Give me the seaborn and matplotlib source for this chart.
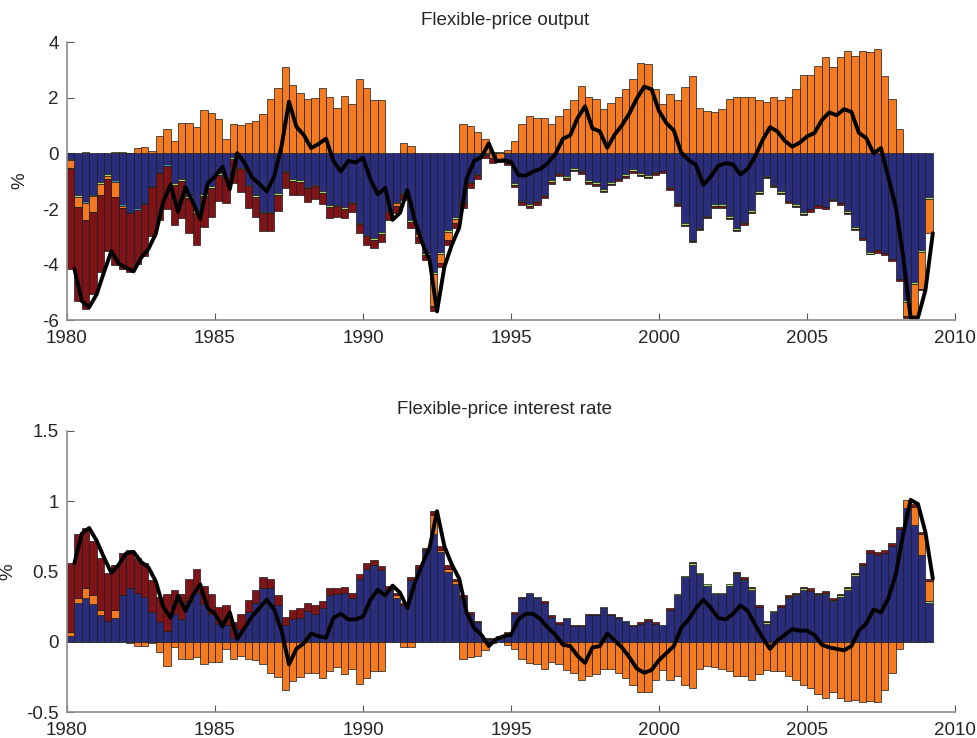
import numpy as np
import matplotlib
matplotlib.use('Agg')
import matplotlib.pyplot as plt
import seaborn as sns
from matplotlib.ticker import FormatStrFormatter

sns.set_style('white')
plt.rcParams['font.family'] = ['Liberation Sans', 'DejaVu Sans']

# quarterly decomposition, 1980Q1 .. 2009Q1 (117 quarters)
n_q = 117
quarters = 1980 + 0.25 * np.arange(n_q)

# ---------------- Flexible-price output ----------------
out_blue = [
    -0.21, -1.50, -1.70, -1.49, -1.03, -0.75, -0.97, -1.82, -2.09, -1.96,
    -1.77, -1.17, -0.66, -0.39, -1.07, -0.93, -1.54, -2.08, -1.46, -1.17,
    -0.71, -0.84, -0.14, -0.52, -1.14, -1.51, -2.09, -2.10, -1.42, -0.64,
    -0.92, -0.97, -1.21, -1.14, -1.36, -1.87, -1.86, -1.93, -1.74, -2.49,
    -2.93, -3.05, -2.84, -2.06, -1.75, -1.42, -2.41, -2.86, -3.59, -4.28,
    -3.55, -2.76, -2.30, -1.74, -1.02, -0.73, -0.05, 0.00, 0.00, -0.33,
    -1.07, -1.70, -1.83, -1.70, -1.49, -0.96, -0.69, -0.83, -0.53, -0.62,
    -0.97, -1.04, -1.28, -1.04, -0.92, -0.75, -0.57, -0.71, -0.79, -0.67,
    -0.63, -1.20, -1.79, -2.50, -3.11, -2.67, -2.24, -1.83, -1.83, -2.26,
    -2.70, -2.47, -2.05, -1.35, -0.80, -1.12, -1.36, -1.72, -1.83, -2.11,
    -2.01, -1.87, -1.93, -1.63, -1.79, -2.08, -2.65, -3.04, -3.55, -3.49,
    -3.57, -3.79, -4.50, -5.27, -4.62, -3.47, -1.56]
out_lightblue = [
    0, 0, -0.07, 0, 0, 0, -0.07, -0.06, -0.06, -0.07,
    -0.04, -0.05, -0.06, -0.07, 0, 0, 0, 0, 0, 0] + [0] * 97
out_green = [
    -0.03, -0.07, 0.06, -0.06, -0.08, -0.07, 0.06, 0.06, 0, 0,
    0, 0, 0, 0, -0.07, -0.07, -0.07, -0.05, -0.06, -0.06,
    -0.06, -0.05, -0.06, -0.06, -0.05, -0.06, -0.06, -0.06, -0.06, -0.04,
    -0.06, -0.05, -0.05, -0.05, -0.05, -0.06, -0.05, -0.06, -0.06, -0.06,
    -0.05, -0.06, -0.05, -0.06, -0.05, -0.05, -0.06, -0.05, -0.06, -0.05,
    -0.05, -0.06, -0.05, -0.05, -0.06, -0.06, 0, 0.06, 0.05, 0,
    -0.06, -0.06, -0.06, -0.05, -0.05, -0.06, -0.05, -0.05, -0.06, -0.04,
    -0.06, -0.05, -0.06, -0.05, 0, -0.05, -0.06, -0.06, -0.05, -0.05,
    0, -0.06, -0.04, -0.06, -0.05, -0.05, -0.06, -0.07, -0.07, -0.05,
    -0.06, -0.05, -0.06, -0.06, -0.05, -0.06, -0.06, 0, -0.06, -0.06,
    0, 0, 0, -0.06, 0, -0.06, -0.06, 0, -0.06, 0,
    0, 0, 0, -0.06, -0.06, -0.06, -0.07]
out_orange = [
    -0.30, -0.37, -0.64, -0.54, -0.38, -0.10, -0.54, -0.07, 0.03, 0.21,
    0.24, 0.08, 0.63, 0.88, 0.46, 1.10, 1.10, 0.95, 1.56, 1.45,
    1.24, 0.51, 1.07, 1.03, 1.10, 1.17, 1.42, 1.95, 2.34, 3.12,
    2.46, 2.17, 1.95, 1.98, 2.34, 2.04, 1.63, 2.06, 1.78, 2.69,
    2.35, 1.93, 1.93, 0.00, -0.10, 0.36, 0.26, -0.10, 0.00, -1.16,
    -0.33, -0.28, -0.17, 1.04, 0.98, 0.78, 0.53, -0.18, -0.20, 0.12,
    0.44, 1.07, 1.33, 1.28, 1.28, 1.07, 1.33, 1.60, 1.92, 2.43,
    2.01, 1.95, 1.60, 1.81, 2.01, 2.31, 2.66, 3.23, 3.20, 2.31,
    1.78, 2.13, 1.92, 2.37, 2.78, 1.63, 1.51, 1.50, 1.60, 1.95,
    2.04, 2.01, 2.04, 1.93, 1.83, 2.01, 1.92, 2.04, 2.31, 2.82,
    2.82, 3.14, 3.46, 3.10, 3.46, 3.67, 3.49, 3.67, 3.63, 3.76,
    2.78, 1.95, 0.86, -0.50, -1.15, -1.33, -1.24]
out_red = [
    -3.61, -3.37, -3.18, -2.98, -2.78, -2.59, -2.45, -2.22, -2.12, -1.94,
    -1.87, -1.75, -1.66, -1.54, -1.42, -1.31, -1.25, -1.17, -1.12, -1.05,
    -0.95, -0.91, -0.86, -0.80, -0.77, -0.70, -0.64, -0.62, -0.59, -0.58,
    -0.52, -0.49, -0.50, -0.45, -0.40, -0.38, -0.37, -0.34, -0.31, -0.30,
    -0.30, -0.30, -0.28, -0.27, -0.24, -0.21, -0.20, -0.21, -0.19, -0.19,
    -0.15, -0.19, -0.15, -0.17, -0.17, -0.13, -0.12, -0.15, -0.10, -0.10,
    -0.09, -0.11, -0.09, -0.09, -0.08, -0.08, -0.07, -0.07, -0.06, -0.08,
    -0.08, -0.07, -0.06, -0.05, -0.08, -0.07, -0.06, -0.06, -0.06, -0.07,
    -0.06, -0.05, -0.06, -0.05, -0.04, -0.05, -0.04, -0.05, -0.05, -0.04,
    -0.04, -0.04, -0.04, -0.04, -0.04, -0.04, -0.05, -0.08, -0.04, -0.04,
    -0.08, -0.08, -0.06, -0.04, -0.08, -0.04, -0.04, -0.08, -0.02, -0.08,
    -0.08, -0.08, -0.08, -0.07, -0.07, -0.06, 0.00]
out_total = [
    -4.15, -5.31, -5.53, -5.07, -4.27, -3.51, -3.97, -4.11, -4.24, -3.76,
    -3.44, -2.89, -1.75, -1.12, -2.10, -1.21, -1.76, -2.35, -1.08, -0.83,
    -0.48, -1.29, 0.01, -0.35, -0.86, -1.10, -1.37, -0.83, 0.27, 1.86,
    0.96, 0.66, 0.19, 0.34, 0.53, -0.27, -0.65, -0.27, -0.33, -0.16,
    -0.93, -1.48, -1.24, -2.39, -2.14, -1.32, -2.41, -3.22, -3.84, -5.68,
    -4.08, -3.29, -2.67, -0.92, -0.27, -0.14, 0.36, -0.27, -0.25, -0.31,
    -0.78, -0.80, -0.65, -0.56, -0.34, -0.03, 0.52, 0.65, 1.27, 1.69,
    0.90, 0.79, 0.20, 0.67, 1.01, 1.44, 1.97, 2.40, 2.30, 1.52,
    1.09, 0.82, 0.03, -0.24, -0.42, -1.14, -0.83, -0.45, -0.35, -0.40,
    -0.76, -0.55, -0.11, 0.48, 0.94, 0.79, 0.45, 0.24, 0.38, 0.61,
    0.73, 1.19, 1.47, 1.37, 1.59, 1.49, 0.74, 0.55, 0.00, 0.19,
    -0.87, -1.92, -3.72, -5.90, -5.90, -4.92, -2.87]

# ---------------- Flexible-price interest rate ----------------
rate_blue = [
    0.04, 0.28, 0.31, 0.27, 0.19, 0.15, 0.17, 0.33, 0.38, 0.35,
    0.32, 0.21, 0.14, 0.08, 0.20, 0.16, 0.29, 0.35, 0.27, 0.20,
    0.13, 0.12, 0.03, 0.09, 0.21, 0.28, 0.38, 0.38, 0.26, 0.12,
    0.16, 0.17, 0.22, 0.20, 0.24, 0.33, 0.34, 0.35, 0.31, 0.45,
    0.52, 0.55, 0.51, 0.37, 0.31, 0.26, 0.44, 0.52, 0.65, 0.77,
    0.64, 0.50, 0.41, 0.31, 0.20, 0.14, 0.02, 0.02, 0.02, 0.05,
    0.20, 0.31, 0.34, 0.31, 0.28, 0.18, 0.13, 0.16, 0.11, 0.11,
    0.19, 0.19, 0.24, 0.19, 0.17, 0.14, 0.11, 0.13, 0.15, 0.13,
    0.12, 0.23, 0.33, 0.46, 0.55, 0.48, 0.40, 0.34, 0.34, 0.40,
    0.48, 0.44, 0.37, 0.25, 0.13, 0.21, 0.25, 0.31, 0.33, 0.37,
    0.36, 0.33, 0.34, 0.29, 0.32, 0.37, 0.47, 0.54, 0.63, 0.62,
    0.63, 0.68, 0.80, 0.95, 0.83, 0.62, 0.28]
rate_lightblue = [0] * 62 + [0.01, 0.01, 0, 0, 0, 0.01, 0, 0, 0, 0,
                             0.01, 0, 0, 0.01] + [0] * 41
rate_green = [0] * 80 + [
    0, 0, 0.01, 0.01, 0.01, 0.01, 0.01, 0.01, 0.01, 0.01,
    0.01, 0.01, 0.01, 0, 0.01, 0.01, 0, 0.01, 0.01, 0.01,
    0, 0.01, 0.01, 0.01, 0.01, 0.01, 0.01, 0.01, 0, 0,
    0, 0, 0, 0, 0, 0, 0.01]
rate_orange = [
    0.03, 0.03, 0.07, 0.06, 0.04, 0, 0.06, 0, -0.01, -0.03,
    -0.03, -0.01, -0.07, -0.17, -0.04, -0.12, -0.12, -0.11, -0.16, -0.14,
    -0.14, -0.05, -0.12, -0.10, -0.12, -0.13, -0.16, -0.22, -0.25, -0.34,
    -0.28, -0.25, -0.22, -0.22, -0.26, -0.21, -0.18, -0.23, -0.19, -0.30,
    -0.26, -0.21, -0.21, 0, 0.02, -0.04, -0.04, 0, 0, 0.13,
    0.01, 0.02, 0.02, -0.12, -0.11, -0.10, -0.06, -0.01, 0.01, -0.02,
    -0.05, -0.12, -0.15, -0.16, -0.19, -0.14, -0.16, -0.20, -0.22, -0.27,
    -0.24, -0.23, -0.19, -0.19, -0.22, -0.26, -0.31, -0.36, -0.36, -0.27,
    -0.20, -0.27, -0.24, -0.31, -0.33, -0.19, -0.17, -0.18, -0.19, -0.21,
    -0.24, -0.24, -0.27, -0.23, -0.20, -0.21, -0.21, -0.24, -0.27, -0.31,
    -0.33, -0.37, -0.40, -0.36, -0.40, -0.42, -0.41, -0.43, -0.42, -0.43,
    -0.34, -0.22, -0.05, 0.06, 0.13, 0.15, 0.14]
rate_red = [
    0.49, 0.46, 0.43, 0.39, 0.37, 0.34, 0.32, 0.30, 0.27, 0.25,
    0.24, 0.23, 0.18, 0.26, 0.17, 0.18, 0.16, 0.17, 0.13, 0.14,
    0.12, 0.14, 0.11, 0.11, 0.09, 0.09, 0.08, 0.07, 0.07, 0.06,
    0.07, 0.07, 0.06, 0.06, 0.05, 0.05, 0.04, 0.04, 0.04, 0.03,
    0.04, 0.03, 0.03, 0.03, 0.02, 0.02, 0.02, 0.03, 0.02, 0.03,
    0.03, 0.03, 0.02, 0.02, 0.01, 0.01, 0.01, 0.01, 0.01, 0.02,
    0.01, 0.01, 0, 0, 0.01, 0.01, 0.01, 0, 0.01, 0.01,
    0.01, 0.01, 0, 0.01, 0.01, 0, 0.01, 0.01, 0.01, 0.01,
    0, 0.01, 0, 0, 0.01, 0, 0, 0, 0, 0,
    0.01, 0.01, 0.01, 0.01, 0.01, 0, 0.01, 0.01, 0.01, 0.01,
    0.02, 0.01, 0.01, 0.01, 0.01, 0.01, 0.01, 0.01, 0.02, 0.02,
    0.02, 0.02, 0.02, 0, 0.02, 0.01, 0.02]
rate_total = [
    0.56, 0.77, 0.81, 0.72, 0.60, 0.49, 0.55, 0.63, 0.64, 0.57,
    0.53, 0.43, 0.25, 0.17, 0.33, 0.22, 0.33, 0.41, 0.24, 0.20,
    0.11, 0.21, 0.02, 0.10, 0.18, 0.24, 0.30, 0.23, 0.08, -0.16,
    -0.05, -0.01, 0.06, 0.04, 0.03, 0.17, 0.20, 0.16, 0.16, 0.18,
    0.30, 0.37, 0.33, 0.40, 0.35, 0.24, 0.42, 0.55, 0.67, 0.93,
    0.68, 0.55, 0.45, 0.21, 0.10, 0.05, -0.03, 0.02, 0.04, 0.05,
    0.16, 0.20, 0.20, 0.16, 0.10, 0.05, -0.02, -0.03, -0.10, -0.15,
    -0.04, -0.03, 0.06, 0.01, -0.04, -0.11, -0.19, -0.22, -0.20, -0.13,
    -0.08, -0.03, 0.10, 0.16, 0.24, 0.30, 0.24, 0.17, 0.16, 0.20,
    0.26, 0.22, 0.12, 0.03, -0.05, 0.01, 0.05, 0.09, 0.08, 0.08,
    0.05, -0.02, -0.04, -0.05, -0.06, -0.03, 0.08, 0.13, 0.23, 0.21,
    0.31, 0.48, 0.77, 1.01, 0.98, 0.78, 0.45]

col_blue = '#2a2d7c'
col_lightblue = '#3c8dd2'
col_green = '#a7d86a'
col_orange = '#f47a22'
col_red = '#7e1417'


def stacked_bars(ax, parts):
    # matlab style stacking: positives pile up from 0, negatives pile down
    pos = np.zeros(n_q)
    neg = np.zeros(n_q)
    for vals, col in parts:
        v = np.asarray(vals, dtype=float)
        base = np.where(v >= 0, pos, neg)
        keep = v != 0
        ax.bar(quarters[keep], v[keep], bottom=base[keep], width=0.25,
               align='edge', color=col, edgecolor='#1a1a1a', linewidth=0.5)
        pos = pos + np.clip(v, 0, None)
        neg = neg + np.clip(v, None, 0)


def style_axis(ax, title, ylim, yticks, lab_x):
    ax.set_xlim(1980, 2010)
    ax.set_ylim(*ylim)
    ax.set_xticks(range(1980, 2011, 5))
    ax.set_yticks(yticks)
    ax.yaxis.set_major_formatter(FormatStrFormatter('%g'))
    for s in ['top', 'right']:
        ax.spines[s].set_visible(False)
    for s in ['left', 'bottom']:
        ax.spines[s].set_color('#8c8c8c')
        ax.spines[s].set_linewidth(1.2)
    ax.tick_params(direction='in', length=5, color='#555555',
                   labelsize=13.5, left=True, bottom=True)
    ax.tick_params(axis='x', pad=7)
    ax.tick_params(axis='y', pad=6)
    ax.set_title(title, fontsize=13.5, pad=12, x=0.493)
    ax.set_ylabel('%', fontsize=13.5)
    ax.yaxis.set_label_coords(lab_x, 0.5)
    ax.set_xlabel('')


fig = plt.figure(figsize=(9.78, 7.38), dpi=100)
ax1 = fig.add_axes([0.0685, 0.566, 0.908, 0.377])
ax2 = fig.add_axes([0.0685, 0.035, 0.908, 0.381])

stacked_bars(ax1, [(out_blue, col_blue), (out_lightblue, col_lightblue),
                   (out_green, col_green), (out_orange, col_orange),
                   (out_red, col_red)])
sns.lineplot(x=quarters + 0.25, y=out_total, ax=ax1, color='black',
             linewidth=2.8)
style_axis(ax1, 'Flexible-price output', (-6, 4), [-6, -4, -2, 0, 2, 4],
           -0.043)

ax2.hlines(0, quarters[0], quarters[-1] + 0.25, color=col_green,
           linewidth=1.2, zorder=1)
stacked_bars(ax2, [(rate_blue, col_blue), (rate_lightblue, col_lightblue),
                   (rate_green, col_green), (rate_orange, col_orange),
                   (rate_red, col_red)])
sns.lineplot(x=quarters + 0.25, y=rate_total, ax=ax2, color='black',
             linewidth=2.8)
style_axis(ax2, 'Flexible-price interest rate', (-0.5, 1.5),
           [-0.5, 0, 0.5, 1, 1.5], -0.057)

fig.savefig('out.png', dpi=100)
